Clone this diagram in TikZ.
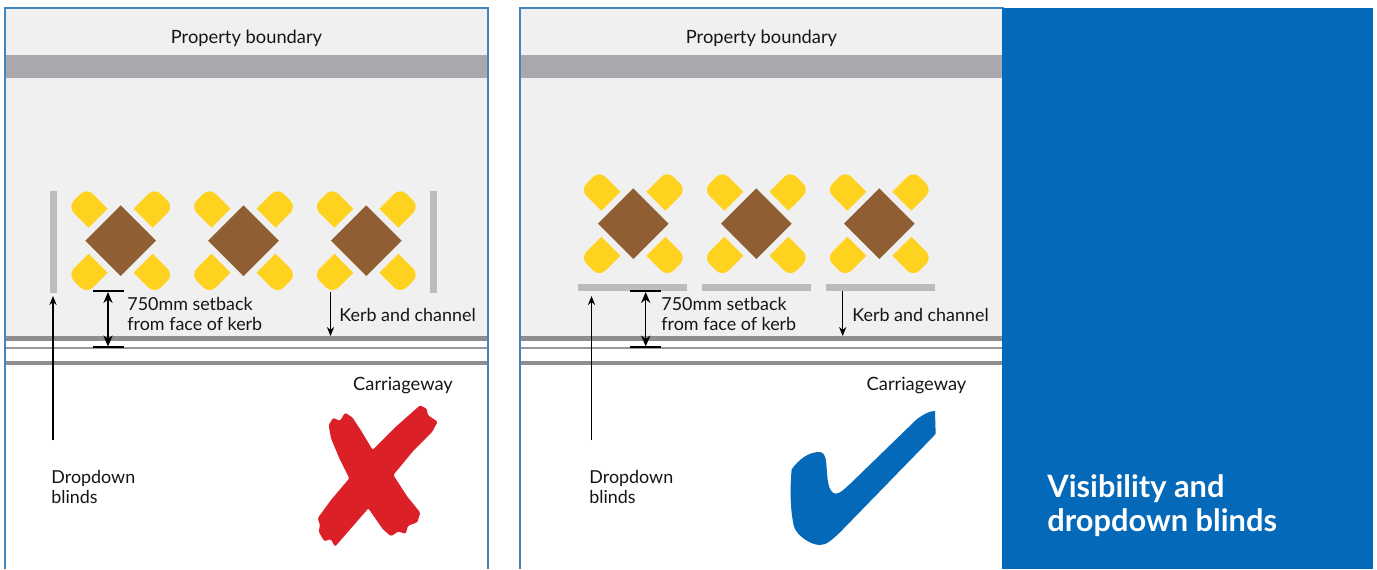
\documentclass[tikz,border=0pt]{standalone}
\usepackage{fontspec}
\setmainfont{Lato}
\usetikzlibrary{arrows.meta}
\definecolor{paving}{HTML}{F0F0F1}
\definecolor{band}{HTML}{A9A8AC}
\definecolor{kerb}{HTML}{8E8E90}
\definecolor{blind}{HTML}{BCBCBF}
\definecolor{edgeblue}{HTML}{3F87C2}
\definecolor{panelblue}{HTML}{0369B8}
\definecolor{tablebrown}{HTML}{8F5E32}
\definecolor{chairyellow}{HTML}{FFD220}
\definecolor{crossred}{HTML}{DC2027}
\definecolor{inktext}{HTML}{151515}
\tikzset{
  x=0.5pt,y=-0.5pt,
  label text/.style={font=\fontsize{9.15}{10}\selectfont,text=inktext,inner sep=0pt,align=left},
  small text/.style={font=\fontsize{8.95}{10}\selectfont,text=inktext,inner sep=0pt,align=left},
  title text/.style={font=\fontsize{15.4}{17}\selectfont\bfseries,text=white,inner sep=0pt,align=left},
  leader/.style={line width=0.55pt,black,-{Stealth[length=4.5pt,width=3.6pt]}},
  dimline/.style={line width=0.75pt,black,{Stealth[length=5.5pt,width=4.6pt]}-{Stealth[length=5.5pt,width=4.6pt]}},
  dimtick/.style={line width=0.6pt,black},
  blindbar/.style={fill=blind,draw=none}
}
\newcommand{\tableset}[2]{%
  \begin{scope}[shift={(#1,#2)}]
    \fill[tablebrown] (-35.3,0) -- (0,-35.3) -- (35.3,0) -- (0,35.3) -- cycle;
    \foreach \ang in {0,90,180,270}{
      \fill[chairyellow,rotate=\ang] (-32,-13) [rounded corners=4.4pt] -- (-53,-34) -- (-34,-53) [sharp corners] -- (-13,-32) -- cycle;
    }
  \end{scope}}
\newcommand{\panelbase}[1]{%
  \begin{scope}[shift={(#1,0)}]
    \fill[paving] (0,8) rectangle (483,337);
    \fill[band] (0,55) rectangle (483,78);
    \fill[kerb] (0,336) rectangle (483,340.5);
    \fill[kerb!90] (0,347) rectangle (483,349);
    \fill[kerb] (0,361) rectangle (483,365);
    \draw[edgeblue,line width=0.8pt] (0,569) -- (0,8) -- (483,8) -- (483,569);
  \end{scope}}
\begin{document}
\begin{tikzpicture}
\useasboundingbox (0,0) rectangle (1377,569);
\fill[white] (0,0) rectangle (1377,569);
\panelbase{5}
\panelbase{520}
\fill[panelblue] (1002,8) rectangle (1373,569);

\node[label text,anchor=base] (pb1) at (246.5,43) {Property boundary};
\node[label text,anchor=base] (pb2) at (761.5,43) {Property boundary};

% left scene
\fill[blindbar] (50,191) rectangle (57,293);
\fill[blindbar] (430,191) rectangle (437,293);
\tableset{120.7}{240.7}
\tableset{243.5}{240.7}
\tableset{366.3}{240.7}

% right scene
\fill[blindbar] (578,283.7) rectangle (687,290.7);
\fill[blindbar] (702,283.7) rectangle (811,290.7);
\fill[blindbar] (826,283.7) rectangle (935,290.7);
\tableset{633.3}{223.7}
\tableset{756.3}{223.7}
\tableset{879.3}{223.7}

% left connectors
\coordinate (lbT) at (53,296); \coordinate (lbB) at (53,440);
\draw[leader,line width=0.65pt] (lbB) -- (lbT);
\coordinate (ldTa) at (93,291); \coordinate (ldTb) at (124,291);
\coordinate (ldBa) at (93,347); \coordinate (ldBb) at (124,347);
\draw[dimtick] (ldTa) -- (ldTb);
\draw[dimtick] (ldBa) -- (ldBb);
\coordinate (ldA) at (108,292); \coordinate (ldB) at (108,346.5);
\draw[dimline] (ldA) -- (ldB);
\coordinate (lkT) at (330.5,292); \coordinate (lkB) at (330.5,336);
\draw[leader] (lkT) -- (lkB);

% right connectors
\coordinate (rbT) at (591.5,296); \coordinate (rbB) at (591.5,440);
\draw[leader,line width=0.65pt] (rbB) -- (rbT);
\coordinate (rdTa) at (630,291); \coordinate (rdTb) at (661,291);
\coordinate (rdBa) at (630,347); \coordinate (rdBb) at (661,347);
\draw[dimtick] (rdTa) -- (rdTb);
\draw[dimtick] (rdBa) -- (rdBb);
\coordinate (rdA) at (645.7,292); \coordinate (rdB) at (645.7,346.5);
\draw[dimline] (rdA) -- (rdB);
\coordinate (rkT) at (842.7,291); \coordinate (rkB) at (842.7,336);
\draw[leader] (rkT) -- (rkB);

% labels
\node[small text,anchor=base west] (sb1a) at (127,310) {750mm setback};
\node[small text,anchor=base west] (sb1b) at (127,330) {from face of kerb};
\node[small text,anchor=base west] (sb2a) at (661,310) {750mm setback};
\node[small text,anchor=base west] (sb2b) at (661,330) {from face of kerb};
\node[small text,anchor=base west] (kc1) at (339,321) {Kerb and channel};
\node[small text,anchor=base west] (kc2) at (852,321) {Kerb and channel};
\node[label text,anchor=base] (cw1) at (403,390.5) {Carriageway};
\node[label text,anchor=base] (cw2) at (916.5,390.5) {Carriageway};
\node[small text,anchor=base west] (db1a) at (51,483) {Dropdown};
\node[small text,anchor=base west] (db1b) at (51,503) {blinds};
\node[small text,anchor=base west] (db2a) at (589,483) {Dropdown};
\node[small text,anchor=base west] (db2b) at (589,503) {blinds};

% cross
\begin{scope}[shift={(290,390)},scale=0.33333]
\fill[crossred,rounded corners=0.7pt] (116,105) -- (130,83) -- (150,93) -- (165,68) -- (187,82) -- (212,120) -- (248,180) -- (320,108) -- (390,46) -- (410,56) -- (414,76) -- (443,95) -- (427,125) -- (372,180) -- (310,255) -- (352,320) -- (391,368) -- (382,397) -- (354,407) -- (347,432) -- (325,424) -- (303,439) -- (278,417) -- (235,355) -- (190,407) -- (135,470) -- (122,447) -- (103,454) -- (86,425) -- (90,405) -- (83,385) -- (123,330) -- (178,265) -- (148,205) -- (123,145) -- cycle;
\end{scope}

% tick
\begin{scope}[shift={(770,390)},scale=0.33333]
\fill[panelblue] (65,238) .. controls (85,210) and (115,185) .. (150,186) .. controls (172,190) and (168,225) .. (172,260) .. controls (175,295) and (185,311) .. (197,311) .. controls (210,311) and (222,298) .. (240,282) -- (440,88) .. controls (465,70) and (480,63) .. (495,63) -- (497,132) -- (210,427) .. controls (185,450) and (170,465) .. (150,465) .. controls (120,465) and (80,435) .. (72,410) .. controls (60,360) and (60,290) .. (65,238) -- cycle;
\end{scope}

\node[title text,anchor=base west] (t1) at (1047,497) {Visibility and};
\node[title text,anchor=base west] (t2) at (1047,531) {dropdown blinds};
\end{tikzpicture}
\end{document}
